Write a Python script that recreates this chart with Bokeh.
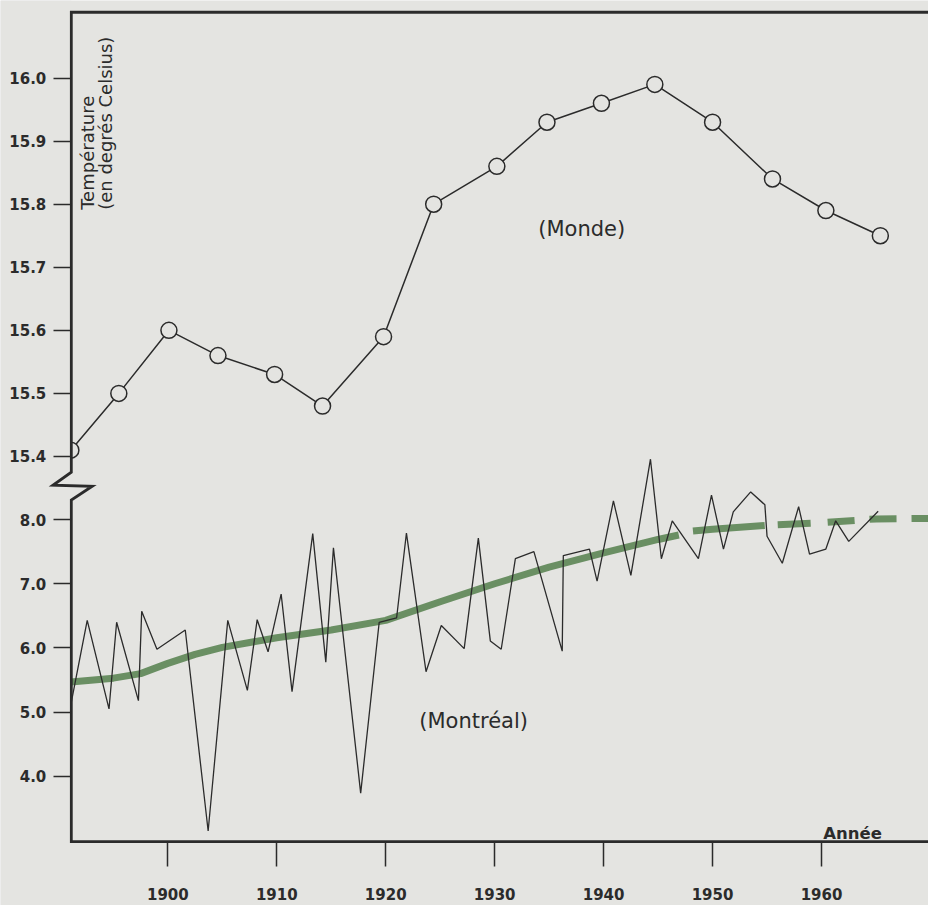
from math import pi
from bokeh.plotting import figure
from bokeh.models import Range1d, FixedTicker, Label
from bokeh.embed import file_html
from bokeh.resources import INLINE

# ---------------- data ----------------
monde_year = [1891.1, 1895.5, 1900.1, 1904.6, 1909.8, 1914.2, 1919.8, 1924.4,
              1930.2, 1934.8, 1939.8, 1944.7, 1950.0, 1955.5, 1960.4, 1965.4]
monde_temp = [15.41, 15.50, 15.60, 15.56, 15.53, 15.48, 15.59, 15.80,
              15.86, 15.93, 15.96, 15.99, 15.93, 15.84, 15.79, 15.75]

montreal_year = [1891.1, 1892.6, 1894.6, 1895.3, 1897.3, 1897.6, 1899.0, 1901.6,
                 1903.7, 1905.5, 1907.3, 1908.2, 1909.2, 1910.4, 1911.4, 1913.3,
                 1914.5, 1915.2, 1917.7, 1919.4, 1921.0, 1921.9, 1923.7, 1925.1,
                 1927.2, 1928.5, 1929.6, 1930.6, 1931.9, 1933.6, 1936.2, 1936.3,
                 1938.7, 1939.4, 1940.9, 1942.5, 1944.3, 1945.3, 1946.3, 1948.7,
                 1949.9, 1951.0, 1951.9, 1953.5, 1954.8, 1955.0, 1956.4, 1957.9,
                 1958.9, 1960.4, 1961.3, 1962.5, 1965.2]
montreal_temp = [5.12, 6.43, 5.05, 6.40, 5.18, 6.57, 5.98, 6.28,
                 3.15, 6.43, 5.34, 6.44, 5.94, 6.84, 5.32, 7.78,
                 5.78, 7.56, 3.74, 6.40, 6.47, 7.79, 5.63, 6.35,
                 5.99, 7.71, 6.11, 5.98, 7.39, 7.50, 5.95, 7.44,
                 7.54, 7.04, 8.29, 7.13, 8.94, 7.39, 7.98, 7.39,
                 8.38, 7.54, 8.12, 8.43, 8.23, 7.74, 7.32, 8.20,
                 7.46, 7.54, 7.98, 7.66, 8.13]

trend_year = [1891.1, 1895, 1897.5, 1900, 1902.5, 1905, 1910, 1915, 1920,
              1925, 1930, 1935, 1940, 1945, 1946.9]
trend_temp = [5.47, 5.53, 5.60, 5.76, 5.90, 6.01, 6.16, 6.28, 6.43,
              6.72, 7.00, 7.26, 7.48, 7.69, 7.76]
trend_proj_year = [1948.2, 1950, 1955, 1960, 1965, 1971]
trend_proj_temp = [7.82, 7.85, 7.91, 7.95, 8.01, 8.02]

decade_ticks = [1900, 1910, 1920, 1930, 1940, 1950, 1960]
montreal_ticks = [4.0, 5.0, 6.0, 7.0, 8.0]
monde_ticks = [15.4, 15.5, 15.6, 15.7, 15.8, 15.9, 16.0]

# ---------------- styling / frame geometry ----------------
BG = "#e4e4e1"
INK = "#2b2b2b"
GREEN = "#6a8f63"
FONT = "DejaVu Sans"

# visible ranges of the whole canvas
x_lo, x_hi = 1884.64, 1969.82
mtl_lo, mtl_hi = 1.989, 16.084
mon_lo, mon_hi = 14.688, 16.123

# where the drawn frame lines sit
axis_year = 1891.14      # vertical temperature axis
base_temp = 2.983        # year axis (Montréal scale)
top_temp = 15.901        # top rule (Montréal scale)
brk_hi, brk_lo = 8.738, 8.305

p = figure(width=928, height=905, output_backend="svg", toolbar_location=None,
           x_range=Range1d(x_lo, x_hi), y_range=Range1d(mtl_lo, mtl_hi),
           min_border=0, background_fill_color=BG, border_fill_color=BG,
           outline_line_color=None)
p.extra_y_ranges = {"monde": Range1d(mon_lo, mon_hi)}
p.grid.visible = False

# x axis (drawn at the baseline)
xa = p.xaxis[0]
xa.fixed_location = base_temp
xa.ticker = FixedTicker(ticks=decade_ticks)
xa.axis_line_color = None
xa.major_tick_out = 25
xa.major_tick_in = 0
xa.major_tick_line_width = 1.5
xa.major_tick_line_color = INK
xa.minor_tick_line_color = None
xa.major_label_standoff = 21
xa.major_label_text_font = FONT
xa.major_label_text_font_size = "15px"
xa.major_label_text_font_style = "bold"
xa.major_label_text_color = INK


# left axis: Montréal scale + Monde scale mapped onto it
def to_mtl(v):
    return mtl_lo + (v - mon_lo) / (mon_hi - mon_lo) * (mtl_hi - mtl_lo)


monde_tick_pos = [round(to_mtl(v), 4) for v in monde_ticks]
ya = p.yaxis[0]
ya.fixed_location = axis_year
ya.ticker = FixedTicker(ticks=montreal_ticks + monde_tick_pos)
overrides = {float(v): f"{v:.1f}" for v in montreal_ticks}
overrides.update({pos: f"{v:.1f}" for pos, v in zip(monde_tick_pos, monde_ticks)})
ya.major_label_overrides = overrides
ya.axis_line_color = None
ya.major_tick_out = 18
ya.major_tick_in = 0
ya.major_tick_line_width = 1.5
ya.major_tick_line_color = INK
ya.minor_tick_line_color = None
ya.major_label_standoff = 7
ya.major_label_text_font = FONT
ya.major_label_text_font_size = "15px"
ya.major_label_text_font_style = "bold"
ya.major_label_text_color = INK

# ---------------- series ----------------
p.line(trend_year, trend_temp, line_width=7, line_color=GREEN)
p.line(trend_proj_year, trend_proj_temp, line_width=7, line_color=GREEN,
       line_dash="72 13 33 17 27 15 27 15 30 15")
p.line(montreal_year, montreal_temp, line_width=1.3, line_color=INK)
p.line(monde_year, monde_temp, line_width=1.5, line_color=INK, y_range_name="monde")
p.scatter(monde_year, monde_temp, marker="circle", size=16, fill_color=BG,
          line_color=INK, line_width=1.5, y_range_name="monde")

# mask left of the temperature axis (the plot area starts there)
p.quad(left=[x_lo], right=[axis_year], bottom=[mtl_lo], top=[mtl_hi],
       fill_color=BG, line_color=None)

# frame: top rule, temperature axis with scale break, year axis
frame_x = [x_hi, axis_year, axis_year, 1889.45, 1893.06, axis_year, axis_year, x_hi]
frame_y = [top_temp, top_temp, brk_hi, 8.534, 8.519, brk_lo, base_temp, base_temp]
p.line(frame_x, frame_y, line_width=2.8, line_color=INK, line_join="miter")

# ---------------- texts ----------------
p.add_layout(Label(x=1934.0, y=15.76, y_range_name="monde", text="(Monde)",
                   text_font=FONT, text_font_size="21px",
                   text_baseline="middle", text_color=INK))
p.add_layout(Label(x=1923.08, y=4.866, text="(Montréal)",
                   text_font=FONT, text_font_size="21px",
                   text_baseline="middle", text_color=INK))
p.add_layout(Label(x=1892.58, y=12.824, angle=pi / 2, text="Température",
                   text_font=FONT, text_font_size="18px",
                   text_align="left", text_baseline="alphabetic", text_color=INK))
p.add_layout(Label(x=1894.30, y=12.824, angle=pi / 2, text="(en degrés Celsius)",
                   text_font=FONT, text_font_size="18px",
                   text_align="left", text_baseline="alphabetic", text_color=INK))
p.add_layout(Label(x=1960.16, y=3.106, text="Année",
                   text_font=FONT, text_font_size="16.5px", text_font_style="bold",
                   text_align="left", text_baseline="alphabetic", text_color=INK))

open("out.html", "w").write(file_html(p, INLINE))
